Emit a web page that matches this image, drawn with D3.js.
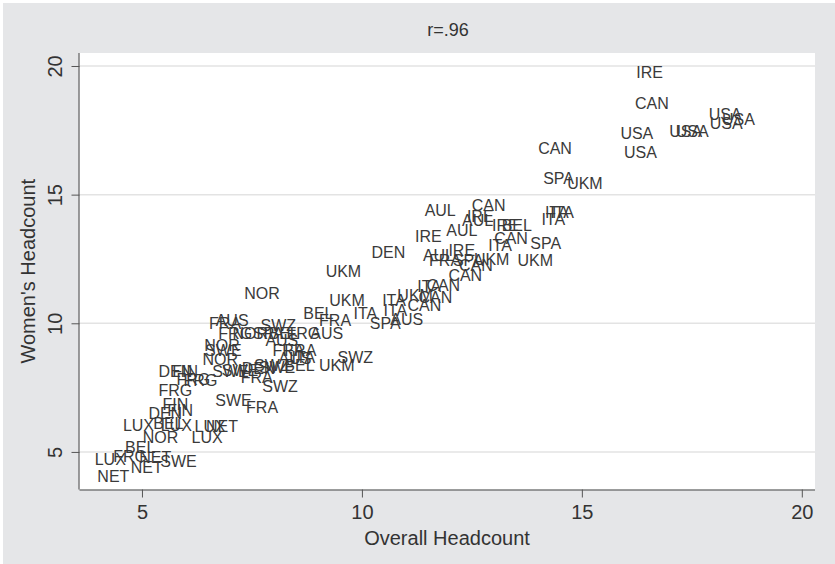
<!DOCTYPE html>
<html>
<head>
<meta charset="utf-8">
<script src="https://cdn.jsdelivr.net/npm/d3@7"></script>
<style>
  body { margin: 0; background: #fff; }
  text { font-family: "Liberation Sans", Arial, sans-serif; fill: #333; }
</style>
</head>
<body>
<script>
// country label for each observation
const countries = [
  'IRE','CAN','USA','USA','CAN','USA','USA','USA','USA','USA',
  'SPA','UKM','AUL','CAN','IRE','AUL','IRE','BEL','ITA','ITA',
  'ITA','AUL','IRE','CAN','SPA','ITA','IRE','AUL','FRA','SPA',
  'UKM','UKM','CAN','CAN','CAN','ITA','UKM','CAN','ITA','CAN',
  'DEN','UKM','UKM','BEL','FRA','ITA','ITA','SPA','AUS','NOR',
  'AUS','FRA','SWZ','FRG','NOR','SPA','BEL','FRG','AUS','AUS',
  'NOR','SWE','NOR','FRA','FRA','AUS','ITA','DEN','FIN','FRG',
  'FRG','SWE','SWE','DEN','SWZ','SWE','BEL','FRA','SWZ','UKM',
  'SWZ','FRG','SWE','FRA','FIN','FIN','DEN','LUX','BEL','LUX',
  'LUX','NET','LUX','NOR','BEL','FRG','LUX','NET','NET','SWE',
  'NET'
];
// overall headcount (x)
const overall = [
  16.54,16.59,16.25,16.33,14.39,17.36,17.51,18.26,18.56,18.28,
  14.47,15.07,11.78,12.88,12.69,12.63,13.26,13.52,14.43,14.55,
  14.35,12.27,11.51,13.39,14.18,13.14,12.27,11.74,11.89,12.42,
  12.95,13.94,12.59,12.35,11.85,11.53,11.21,11.67,10.73,11.42,
  10.60,9.58,9.66,9.01,9.39,10.08,10.76,10.53,11.02,7.73,
  7.05,6.89,8.10,7.12,7.46,7.87,8.22,8.67,9.20,8.18,
  6.82,6.85,6.78,8.33,8.60,8.48,8.67,5.76,5.98,6.17,
  6.33,7.01,7.23,7.65,7.95,8.07,8.58,7.61,8.14,9.43,
  9.85,5.76,7.08,7.73,5.76,5.87,5.53,4.92,5.60,5.78,
  6.55,6.82,6.48,5.42,4.96,4.73,4.28,5.30,5.11,5.83,
  4.35
];
// women's headcount (y)
const women = [
  19.75,18.54,17.37,16.64,16.79,17.44,17.44,18.11,17.93,17.76,
  15.63,15.45,14.39,14.59,14.16,13.98,13.81,13.81,14.29,14.29,
  14.03,13.59,13.38,13.29,13.12,13.03,12.84,12.64,12.45,12.45,
  12.48,12.45,12.26,11.87,11.48,11.44,11.09,11.02,10.90,10.70,
  12.77,12.00,10.87,10.38,10.12,10.38,10.51,9.99,10.15,11.16,
  10.09,10.01,9.92,9.62,9.62,9.62,9.62,9.62,9.62,9.34,
  9.15,8.95,8.60,8.95,8.95,8.63,8.68,8.11,8.11,7.83,
  7.79,8.11,8.18,8.24,8.37,8.28,8.35,7.91,7.55,8.37,
  8.68,7.40,7.01,6.74,6.85,6.62,6.49,6.04,6.10,6.04,
  5.97,5.97,5.58,5.56,5.18,4.83,4.70,4.78,4.39,4.61,
  4.03
];
const xTicks = [5, 10, 15, 20];
const yTicks = [5, 10, 15, 20];
const title = 'r=.96';

const W = 835, H = 564;
const plot = {left: 79.5, right: 815, top: 53, bottom: 489.5};

const svg = d3.select('body').append('svg')
    .attr('width', W)
    .attr('height', H);

// graph region
svg.append('rect')
    .attr('x', 3).attr('y', 3)
    .attr('width', W - 3).attr('height', H - 3)
    .attr('fill', '#e5e6e8');

svg.append('rect')
    .attr('x', plot.left).attr('y', plot.top)
    .attr('width', plot.right - plot.left)
    .attr('height', plot.bottom - plot.top)
    .attr('fill', '#fff');

const x = d3.scaleLinear()
    .domain([3.58, 20.3])
    .range([plot.left, plot.right]);

const y = d3.scaleLinear()
    .domain([3.54, 20.505])
    .range([plot.bottom, plot.top]);

// gridlines
svg.append('g')
    .selectAll('line')
    .data(yTicks)
    .enter()
    .append('line')
    .attr('x1', plot.left).attr('x2', plot.right)
    .attr('y1', d => y(d)).attr('y2', d => y(d))
    .attr('stroke', '#e3e3e3')
    .attr('stroke-width', 1.5);

// labels as markers
svg.append('g')
    .selectAll('text')
    .data(countries)
    .enter()
    .append('text')
    .attr('x', (d, i) => x(overall[i]))
    .attr('y', (d, i) => y(women[i]))
    .attr('text-anchor', 'middle')
    .attr('dominant-baseline', 'central')
    .style('font-size', '16px')
    .style('fill', '#3a3a3a')
    .text(d => d);

// axes
const xAxis = svg.append('g')
    .attr('transform', 'translate(0,' + plot.bottom + ')')
    .call(d3.axisBottom(x).tickValues(xTicks).tickSize(8).tickPadding(7));
const yAxis = svg.append('g')
    .attr('transform', 'translate(' + plot.left + ',0)')
    .call(d3.axisLeft(y).tickValues(yTicks).tickSize(8).tickPadding(6));

[xAxis, yAxis].forEach(a => {
    a.select('.domain').attr('stroke', '#444');
    a.selectAll('.tick line').attr('stroke', '#555');
    a.selectAll('.tick text')
        .style('font-size', '20px')
        .style('font-family', '"Liberation Sans", Arial, sans-serif')
        .attr('fill', '#333');
});
xAxis.select('.domain').attr('d', 'M' + plot.left + ',0.5H' + plot.right);
yAxis.select('.domain').attr('d', 'M-0.5,' + plot.top + 'V' + plot.bottom);

// rotate y tick labels
yAxis.selectAll('.tick text')
    .attr('transform', 'rotate(-90)')
    .attr('x', 0)
    .attr('y', -25)
    .attr('dy', null)
    .attr('text-anchor', 'middle')
    .attr('dominant-baseline', 'central');

// titles
svg.append('text')
    .attr('x', 448).attr('y', 30)
    .attr('text-anchor', 'middle')
    .attr('dominant-baseline', 'central')
    .style('font-size', '18px')
    .text(title);

svg.append('text')
    .attr('x', 447).attr('y', 538)
    .attr('text-anchor', 'middle')
    .attr('dominant-baseline', 'central')
    .style('font-size', '20px')
    .text('Overall Headcount');

svg.append('text')
    .attr('transform', 'translate(28,' + ((plot.top + plot.bottom) / 2) + ') rotate(-90)')
    .attr('text-anchor', 'middle')
    .attr('dominant-baseline', 'central')
    .style('font-size', '20px')
    .text("Women's Headcount");
</script>
</body>
</html>
